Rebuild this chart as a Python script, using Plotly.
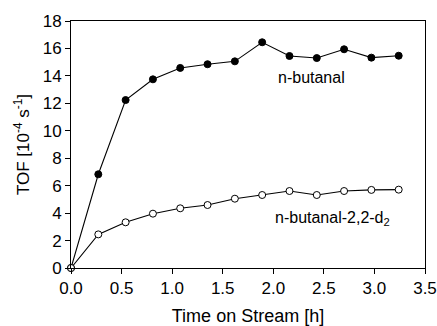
import plotly.graph_objects as go

time_h = [0, 0.27, 0.54, 0.81, 1.08, 1.35, 1.62, 1.89, 2.16, 2.43, 2.70, 2.97, 3.24]
tof_butanal = [0, 6.83, 12.24, 13.75, 14.58, 14.85, 15.06, 16.45, 15.45, 15.3, 15.94, 15.33, 15.47]
tof_butanal_d2 = [0, 2.45, 3.33, 3.96, 4.35, 4.59, 5.05, 5.32, 5.61, 5.32, 5.61, 5.69, 5.71]

FONT = "Liberation Sans, Arial, sans-serif"

fig = go.Figure()
fig.add_trace(go.Scatter(
    x=time_h, y=tof_butanal, mode="lines+markers",
    line=dict(color="black", width=1.1),
    marker=dict(symbol="circle", size=7, color="black", line=dict(color="black", width=1)),
    showlegend=False, cliponaxis=False))
fig.add_trace(go.Scatter(
    x=time_h, y=tof_butanal_d2, mode="lines+markers",
    line=dict(color="black", width=1.1),
    marker=dict(symbol="circle", size=7, color="white", line=dict(color="black", width=1)),
    showlegend=False, cliponaxis=False))

fig.add_annotation(x=2.38, y=13.87, text="n-butanal", showarrow=False,
                   font=dict(family=FONT, size=16, color="black"))
fig.add_annotation(x=2.59, y=3.6, text="n-butanal-2,2-d<sub>2</sub>", showarrow=False,
                   font=dict(family=FONT, size=16, color="black"))

fig.update_layout(
    width=437, height=326,
    margin=dict(l=71, r=12, t=21, b=58, autoexpand=False),
    paper_bgcolor="white", plot_bgcolor="white",
    font=dict(family=FONT, size=16, color="black"),
    xaxis=dict(range=[0, 3.5], tickvals=[0, 0.5, 1.0, 1.5, 2.0, 2.5, 3.0, 3.5],
               ticktext=["0.0", "0.5", "1.0", "1.5", "2.0", "2.5", "3.0", "3.5"],
               showgrid=False, zeroline=False, showline=True, linecolor="black", linewidth=1,
               mirror=True, ticks="outside", ticklen=5, tickcolor="black", automargin=False,
               tickfont=dict(family=FONT, size=17, color="black"),
               title=dict(text="Time on Stream [h]", standoff=12,
                          font=dict(family=FONT, size=18, color="black"))),
    yaxis=dict(range=[0, 18], tickvals=list(range(0, 19, 2)),
               showgrid=False, zeroline=False, showline=True, linecolor="black", linewidth=1,
               mirror=True, ticks="outside", ticklen=5, tickcolor="black", automargin=False,
               tickfont=dict(family=FONT, size=17, color="black"),
               title=dict(text="TOF [10<sup>-4</sup> s<sup>-1</sup>]", standoff=8,
                          font=dict(family=FONT, size=17, color="black"))),
)

fig.write_html("out.html")
